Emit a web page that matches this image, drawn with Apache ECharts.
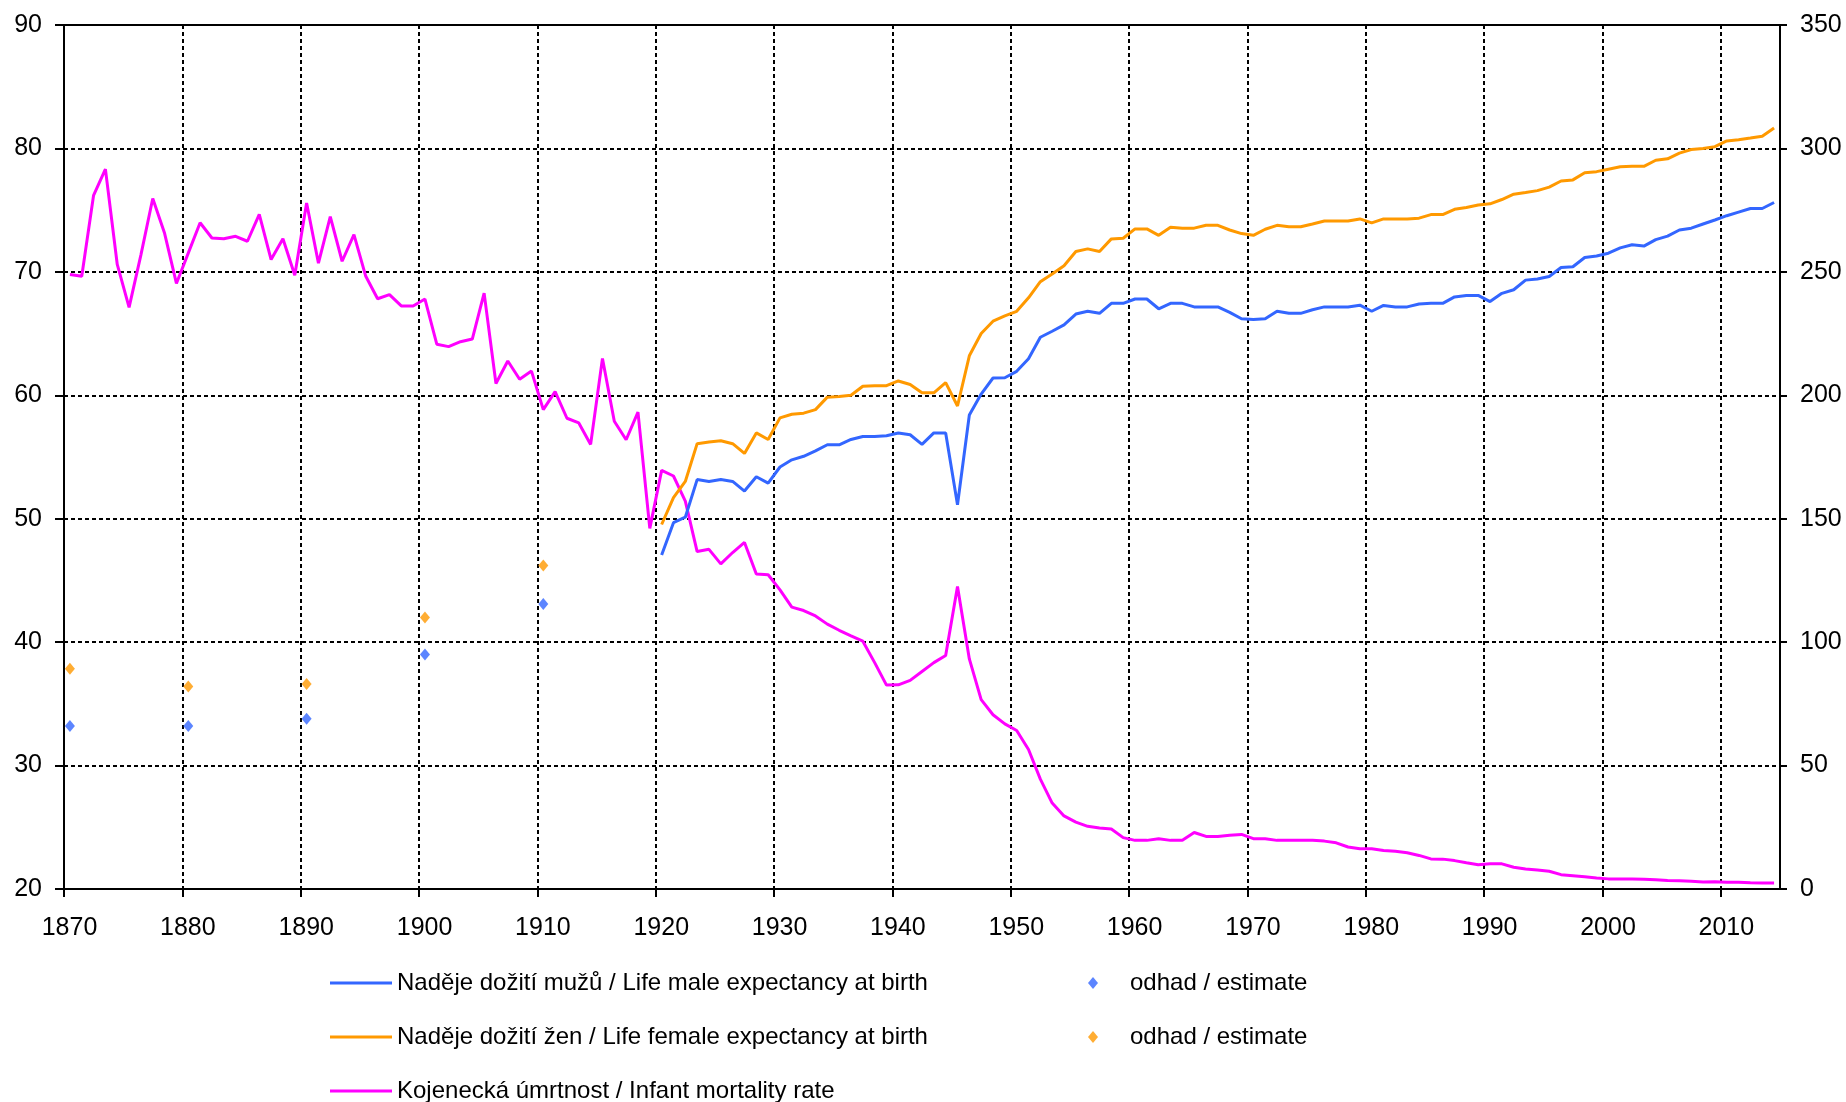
<!DOCTYPE html>
<html><head><meta charset="utf-8">
<script src="https://cdn.jsdelivr.net/npm/echarts@6/dist/echarts.min.js"></script>
<style>html,body{margin:0;padding:0;background:#fff}#c{width:1846px;height:1102px}</style>
</head><body><div id="c"></div>
<script>
// ---- data ----
const imrStartYear = 1870;
const infantMortality = [
  248.9, 248.2, 281.0, 291.6, 253.0, 235.6, 256.9, 279.7, 265.6, 245.3,
  257.6, 269.9, 263.7, 263.4, 264.4, 262.4, 273.3, 255.0, 263.4, 248.6,
  277.9, 253.5, 272.4, 254.3, 265.1, 248.2, 239.1, 240.8, 236.2, 236.2,
  239.0, 220.7, 219.7, 221.7, 222.8, 241.4, 204.8, 213.9, 206.5, 209.8,
  194.2, 201.5, 190.7, 188.8, 180.1, 214.9, 189.5, 182.0, 193.2, 146.1,
  169.6, 167.3, 157.1, 136.7, 137.6, 131.7, 136.3, 140.4, 127.6, 127.3,
  121.2, 114.2, 112.8, 110.6, 107.3, 104.8, 102.5, 100.4, 91.7, 82.6,
  82.7, 84.5, 88.1, 91.7, 94.6, 122.5, 93.2, 76.7, 70.6, 66.9,
  64.2, 56.5, 44.5, 34.8, 29.6, 27.1, 25.4, 24.7, 24.3, 20.8,
  19.7, 19.7, 20.4, 19.7, 19.7, 22.9, 21.3, 21.3, 21.8, 22.1,
  20.4, 20.4, 19.7, 19.7, 19.7, 19.7, 19.4, 18.7, 17.0, 16.3,
  16.3, 15.6, 15.3, 14.7, 13.6, 12.2, 12.1, 11.5, 10.6, 9.8,
  10.2, 10.2, 8.8, 8.1, 7.7, 7.2, 5.8, 5.4, 5.0, 4.5,
  4.1, 4.1, 4.1, 3.9, 3.7, 3.4, 3.3, 3.1, 2.8, 2.9,
  2.7, 2.7, 2.5, 2.4, 2.4
];
const lifeStartYear = 1920;
const maleLE = [
  47.06, 49.68, 50.12, 53.17, 53.02, 53.17, 53.02, 52.24, 53.40, 52.88,
  54.19, 54.77, 55.06, 55.49, 55.99, 55.99, 56.42, 56.66, 56.66, 56.72,
  56.95, 56.80, 56.02, 56.95, 56.95, 51.13, 58.40, 60.10, 61.40, 61.42,
  61.94, 62.96, 64.70, 65.19, 65.71, 66.58, 66.81, 66.64, 67.45, 67.45,
  67.80, 67.80, 67.01, 67.45, 67.45, 67.16, 67.16, 67.16, 66.72, 66.20,
  66.14, 66.20, 66.81, 66.64, 66.64, 66.93, 67.16, 67.16, 67.16, 67.30,
  66.81, 67.28, 67.16, 67.16, 67.39, 67.45, 67.45, 67.97, 68.09, 68.09,
  67.59, 68.26, 68.55, 69.33, 69.42, 69.62, 70.35, 70.41, 71.16, 71.28,
  71.51, 71.94, 72.20, 72.09, 72.61, 72.90, 73.39, 73.54, 73.88, 74.20,
  74.55, 74.84, 75.13, 75.13, 75.62
];
const femaleLE = [
  49.53, 51.71, 53.02, 56.08, 56.22, 56.31, 56.08, 55.29, 56.95, 56.42,
  58.17, 58.46, 58.55, 58.84, 59.85, 59.91, 60.00, 60.73, 60.78, 60.78,
  61.16, 60.87, 60.20, 60.20, 61.02, 59.13, 63.20, 65.00, 66.00, 66.43,
  66.80, 67.90, 69.20, 69.83, 70.50, 71.65, 71.86, 71.65, 72.67, 72.72,
  73.48, 73.48, 72.96, 73.62, 73.54, 73.54, 73.77, 73.77, 73.39, 73.10,
  72.96, 73.45, 73.77, 73.65, 73.65, 73.88, 74.12, 74.12, 74.12, 74.29,
  73.97, 74.29, 74.29, 74.29, 74.35, 74.64, 74.64, 75.07, 75.22, 75.42,
  75.51, 75.86, 76.29, 76.43, 76.58, 76.87, 77.36, 77.45, 78.03, 78.12,
  78.32, 78.52, 78.55, 78.55, 79.04, 79.16, 79.62, 79.91, 80.00, 80.14,
  80.61, 80.70, 80.84, 80.99, 81.65
];
const estimateYears = [1870, 1880, 1890, 1900, 1910];
const maleEstimate = [33.2, 33.2, 33.8, 39.0, 43.1];
const femaleEstimate = [37.85, 36.4, 36.6, 42.0, 46.2];

const NAME_M = 'Naděje dožití mužů / Life male expectancy at birth';
const NAME_F = 'Naděje dožití žen / Life female expectancy at birth';
const NAME_I = 'Kojenecká úmrtnost / Infant mortality rate';
const NAME_EM = 'estM';
const NAME_EF = 'estF';
const ESTIMATE_LABEL = 'odhad / estimate';

// ---- build ----
const BLUE = '#3366FF', ORANGE = '#FF9900', MAGENTA = '#FF00FF';
const midYear = (start, arr) => arr.map((v, i) => [start + i + 0.5, v]);
const estPts = arr => estimateYears.map((y, i) => [y + 0.5, arr[i]]);

const font = "'Liberation Sans', Arial, sans-serif";
const blackLine = { color: '#000', width: 2 };
const dashed = { type: [4, 3], color: '#000', width: 2 };
const plain = v => String(v);

const legendText = { fontFamily: font, fontSize: 24, color: '#000', lineHeight: 24 };
const lineLegend = (name, top) => ({
  orient: 'horizontal', left: 325, top, itemWidth: 62, itemHeight: 3,
  icon: 'rect', selectedMode: false, data: [name], textStyle: legendText
});
const estLegend = (name, top) => ({
  orient: 'horizontal', left: 1083, top, itemWidth: 10, itemHeight: 12,
  icon: 'diamond', selectedMode: false, data: [name],
  formatter: () => ESTIMATE_LABEL,
  textStyle: Object.assign({}, legendText, { padding: [0, 0, 0, 27] })
});

const chart = echarts.init(document.getElementById('c'), null, { renderer: 'canvas' });
chart.setOption({
  animation: false,
  backgroundColor: '#fff',
  grid: { left: 64, right: 66, top: 25, bottom: 213, show: true, borderColor: '#000', borderWidth: 2 },
  legend: [
    lineLegend(NAME_M, 966),
    lineLegend(NAME_F, 1020),
    lineLegend(NAME_I, 1074),
    estLegend(NAME_EM, 966),
    estLegend(NAME_EF, 1020)
  ],
  xAxis: {
    type: 'value', min: 1870, max: 2015, interval: 10,
    axisLine: { lineStyle: blackLine },
    axisTick: { show: true, length: 8, lineStyle: blackLine },
    axisLabel: { showMaxLabel: false, margin: 27, fontSize: 25, fontFamily: font, color: '#000',
      formatter: plain, padding: [0, 0, 0, 11] },
    splitLine: { show: true, lineStyle: dashed }
  },
  yAxis: [
    {
      type: 'value', min: 20, max: 90, interval: 10, position: 'left',
      axisLine: { show: true, lineStyle: blackLine },
      axisTick: { show: true, length: 9, lineStyle: blackLine },
      axisLabel: { margin: 22, fontSize: 25, fontFamily: font, color: '#000', formatter: plain },
      splitLine: { show: true, lineStyle: dashed }
    },
    {
      type: 'value', min: 0, max: 350, interval: 50, position: 'right',
      axisLine: { show: true, lineStyle: blackLine },
      axisTick: { show: true, length: 7, lineStyle: blackLine },
      axisLabel: { margin: 20, fontSize: 25, fontFamily: font, color: '#000', formatter: plain },
      splitLine: { show: false }
    }
  ],
  series: [
    { name: NAME_I, type: 'line', yAxisIndex: 1, data: midYear(imrStartYear, infantMortality), symbol: 'none',
      lineStyle: { width: 3, color: MAGENTA }, itemStyle: { color: MAGENTA }, z: 3 },
    { name: NAME_M, type: 'line', yAxisIndex: 0, data: midYear(lifeStartYear, maleLE), symbol: 'none',
      lineStyle: { width: 3, color: BLUE }, itemStyle: { color: BLUE }, z: 3 },
    { name: NAME_F, type: 'line', yAxisIndex: 0, data: midYear(lifeStartYear, femaleLE), symbol: 'none',
      lineStyle: { width: 3, color: ORANGE }, itemStyle: { color: ORANGE }, z: 3 },
    { name: NAME_EM, type: 'scatter', yAxisIndex: 0, data: estPts(maleEstimate), symbol: 'diamond',
      symbolSize: [10, 12], itemStyle: { color: BLUE }, z: 4 },
    { name: NAME_EF, type: 'scatter', yAxisIndex: 0, data: estPts(femaleEstimate), symbol: 'diamond',
      symbolSize: [10, 12], itemStyle: { color: ORANGE }, z: 4 }
  ]
});
</script>
</body></html>
